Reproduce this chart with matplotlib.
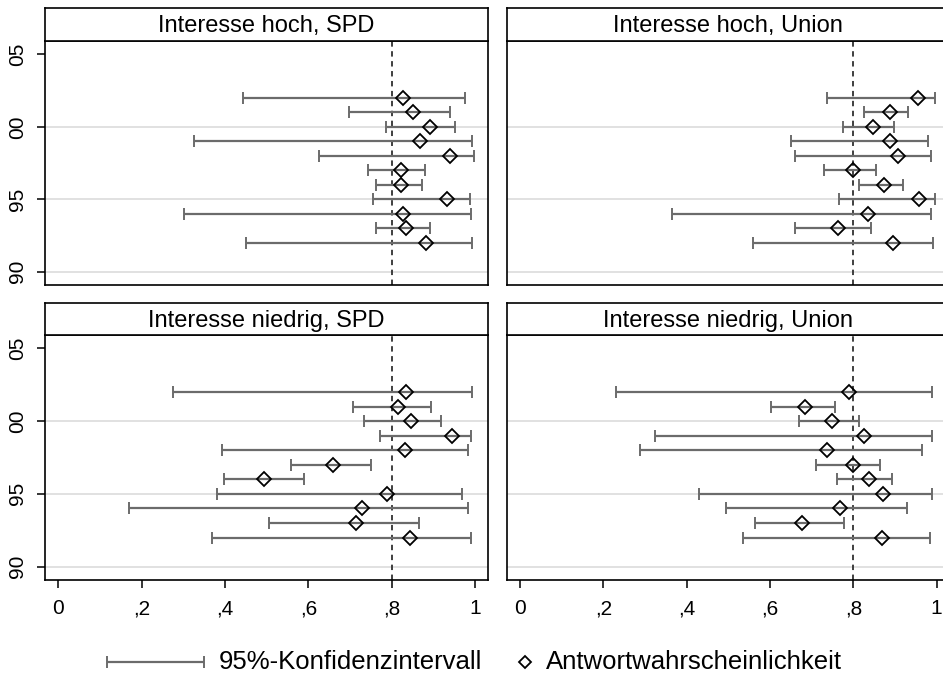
import numpy as np
import matplotlib
matplotlib.use('Agg')
import matplotlib.pyplot as plt

plt.rcParams['font.family'] = ['Liberation Sans', 'DejaVu Sans']

# survey years 1992..2002
years = np.arange(1992, 2003)

# Interesse hoch, SPD
hoch_spd_p = [0.883, 0.834, 0.828, 0.932, 0.823, 0.822, 0.941, 0.867, 0.892, 0.852, 0.828]
hoch_spd_lo = [0.450, 0.762, 0.301, 0.756, 0.762, 0.743, 0.626, 0.326, 0.786, 0.698, 0.443]
hoch_spd_hi = [0.993, 0.892, 0.990, 0.988, 0.872, 0.880, 0.997, 0.994, 0.952, 0.941, 0.976]

# Interesse hoch, Union
hoch_uni_p = [0.894, 0.762, 0.836, 0.958, 0.874, 0.799, 0.906, 0.887, 0.846, 0.887, 0.954]
hoch_uni_lo = [0.560, 0.661, 0.365, 0.766, 0.813, 0.730, 0.661, 0.651, 0.774, 0.826, 0.736]
hoch_uni_hi = [0.990, 0.842, 0.986, 0.997, 0.918, 0.854, 0.987, 0.978, 0.898, 0.931, 0.995]

# Interesse niedrig, SPD
nied_spd_p = [0.843, 0.714, 0.729, 0.789, 0.494, 0.660, 0.832, 0.945, 0.846, 0.816, 0.835]
nied_spd_lo = [0.370, 0.505, 0.169, 0.380, 0.398, 0.558, 0.394, 0.771, 0.734, 0.707, 0.276]
nied_spd_hi = [0.990, 0.866, 0.984, 0.970, 0.589, 0.751, 0.984, 0.991, 0.918, 0.894, 0.994]

# Interesse niedrig, Union
nied_uni_p = [0.868, 0.677, 0.769, 0.870, 0.837, 0.798, 0.736, 0.826, 0.749, 0.683, 0.790]
nied_uni_lo = [0.534, 0.564, 0.494, 0.429, 0.761, 0.710, 0.288, 0.325, 0.670, 0.603, 0.230]
nied_uni_hi = [0.985, 0.777, 0.929, 0.989, 0.893, 0.863, 0.964, 0.989, 0.814, 0.757, 0.989]

titles = ['Interesse hoch, SPD', 'Interesse hoch, Union',
          'Interesse niedrig, SPD', 'Interesse niedrig, Union']
ytick_vals = [1990, 1995, 2000, 2005]
ytick_labels = ['90', '95', '00', '05']
xtick_vals = [0, 0.2, 0.4, 0.6, 0.8, 1]
xtick_labels = ['0', ',2', ',4', ',6', ',8', '1']
ref_value = 0.8

W, H = 943, 681
fig = plt.figure(figsize=(W / 100, H / 100), dpi=100)


def px_axes(x0, y0, x1, y1):
    return fig.add_axes([x0 / W, 1 - y1 / H, (x1 - x0) / W, (y1 - y0) / H])


ci_col = '#6b6b6b'
panels = [
    (hoch_spd_p, hoch_spd_lo, hoch_spd_hi, (45, 41, 488.3, 285), 8.3, True, False),
    (hoch_uni_p, hoch_uni_lo, hoch_uni_hi, (506.7, 41, 950, 285), 8.3, False, False),
    (nied_spd_p, nied_spd_lo, nied_spd_hi, (45, 335, 488.3, 580), 303.3, True, True),
    (nied_uni_p, nied_uni_lo, nied_uni_hi, (506.7, 335, 950, 580), 303.3, False, True),
]

for (p, lo, hi, box, head_top, show_y, show_x), title in zip(panels, titles):
    p, lo, hi = np.array(p), np.array(lo), np.array(hi)
    ax = px_axes(*box)
    for yv in ytick_vals[:3]:
        ax.axhline(yv, color='#dedede', lw=1.3, zorder=0)
    ax.axvline(ref_value, color='#303030', lw=1.3, ls=(0, (3, 2.5)), zorder=1)
    ax.errorbar(p, years, xerr=[p - lo, hi - p], fmt='none', ecolor=ci_col,
                elinewidth=1.6, capsize=4, capthick=1.4, zorder=2)
    ax.plot(p, years, 'D', mfc='none', mec='black', ms=7, mew=1.3, zorder=3)
    ax.set_xlim(-0.032, 1.032)
    ax.set_ylim(1989.08, 2005.92)
    for s in ax.spines.values():
        s.set_linewidth(1.2)
    ax.set_yticks(ytick_vals)
    ax.set_xticks(xtick_vals)
    if show_y:
        ax.set_yticklabels(ytick_labels, rotation=90, va='center', fontsize=15)
        ax.tick_params(axis='y', length=6, width=1.1, pad=7)
    else:
        ax.tick_params(axis='y', left=False, labelleft=False)
    if show_x:
        ax.set_xticklabels(xtick_labels, fontsize=15)
        ax.tick_params(axis='x', length=6, width=1.1, pad=8)
    else:
        ax.tick_params(axis='x', bottom=False, labelbottom=False)

    hax = px_axes(box[0], head_top, box[2], box[1])
    hax.set_xticks([])
    hax.set_yticks([])
    for s in hax.spines.values():
        s.set_linewidth(1.2)
    hax.text(0.5, 0.45, title, ha='center', va='center', fontsize=17,
             transform=hax.transAxes)

# legend drawn in pixel space
lax = fig.add_axes([0, 0, 1, 1])
lax.set_xlim(0, W)
lax.set_ylim(H, 0)
lax.axis('off')
lax.errorbar([155.5], [662], xerr=[[48.8], [48.8]], fmt='none', ecolor=ci_col,
             elinewidth=1.6, capsize=4, capthick=1.4)
lax.text(219, 662, '95%-Konfidenzintervall', fontsize=18.5, va='center')
lax.plot([525], [662], 'D', mfc='none', mec='black', ms=6, mew=1.3)
lax.text(546, 662, 'Antwortwahrscheinlichkeit', fontsize=18.5, va='center')

fig.savefig('out.png', dpi=100)
